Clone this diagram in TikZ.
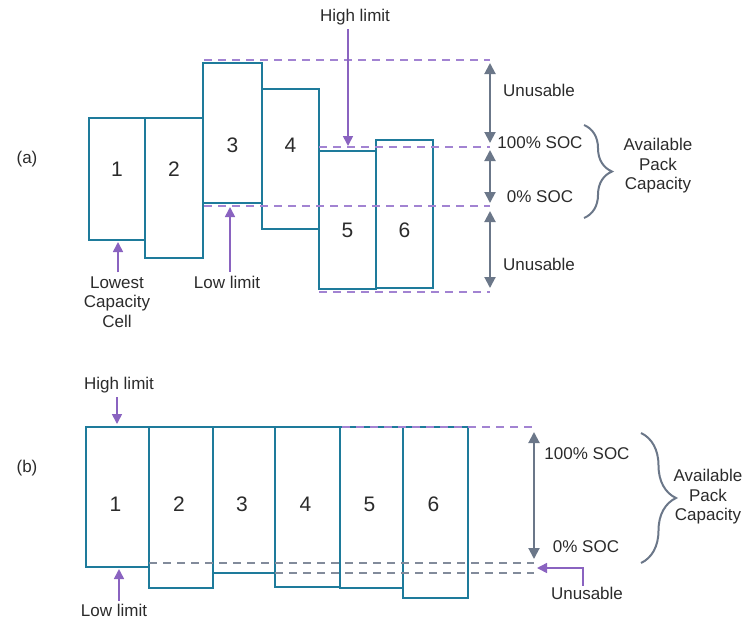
\documentclass[tikz,border=0pt]{standalone}
\usepackage{fontspec}
\setmainfont{Liberation Sans}
\usetikzlibrary{arrows.meta,decorations.pathreplacing}
\definecolor{celltl}{HTML}{1E7B9B}
\definecolor{purp}{HTML}{A283D2}
\definecolor{purpdk}{HTML}{8A63C0}
\definecolor{grayar}{HTML}{6B7789}
\definecolor{graydsh}{HTML}{828B9B}
\definecolor{txtc}{HTML}{2B2B2B}
\begin{document}
\begin{tikzpicture}[x=1pt,y=-1pt,
  cell/.style={draw=celltl,line width=2pt},
  num/.style={font=\fontsize{21}{21}\selectfont,text=txtc},
  lbl/.style={font=\fontsize{17}{19.5}\selectfont,text=txtc,align=center,inner sep=1pt},
  lim/.style={draw=purp,line width=1.6pt,dash pattern=on 8pt off 6pt},
  soc/.style={draw=graydsh,line width=1.6pt,dash pattern=on 8pt off 6pt},
  parrow/.style={draw=purpdk,line width=1.6pt,-{Triangle[length=10pt,width=10pt]}},
  garrow/.style={draw=grayar,line width=2pt,{Triangle[length=11pt,width=11pt]}-{Triangle[length=11pt,width=11pt]}},
  brc/.style={draw=grayar,line width=2pt,decorate,decoration={brace,amplitude=#1}}]
\useasboundingbox (0,0) rectangle (746,621);
% (a) cells out of balance
\node[lbl] (pa) at (27,159) {(a)};
\foreach \n/\l/\t/\r/\b/\y in {1/89/118/145/240/169,2/145/118/203/258/169,3/203/63/262/203/145,4/262/89/319/229/145,5/319/151/376/289/230,6/376/140/433/288/230}
  {\draw[cell] (\l,\t) rectangle (\r,\b); \node[num] (a\n) at ({(\l+\r)/2},\y) {\n};}
\coordinate (ta) at (490,60); \coordinate (ha) at (490,147); \coordinate (la) at (490,206); \coordinate (ba) at (490,292);
\draw[lim] (204,60) -- (ta); \draw[lim] (319,147) -- (ha); \draw[lim] (204,206) -- (la); \draw[lim] (319,292) -- (ba);
\draw[garrow,shorten <=3pt,shorten >=4pt] (ta) -- (ha); \draw[garrow,shorten <=3pt,shorten >=3pt] (ha) -- (la); \draw[garrow,shorten <=5pt,shorten >=4pt] (la) -- (ba);
\node[lbl] (ua) at (539,90) {Unusable}; \node[lbl] (s100a) at (540,143) {100\% SOC};
\node[lbl] (s0a) at (540,197) {0\% SOC}; \node[lbl] (ua2) at (539,264) {Unusable};
\draw[brc=28pt] (584,125) -- (584,218); \node[lbl] (ava) at (658,166) {Available\\Pack\\Capacity};
\node[lbl] (hla) at (355,17) {High limit}; \coordinate (hlt) at (348,146); \draw[parrow,shorten <=3pt] (hla.south -| hlt) -- (hlt);
\node[lbl] (lla) at (227,282) {Low limit}; \coordinate (llt) at (230,207); \draw[parrow,shorten <=3pt] (lla.north -| llt) -- (llt);
\node[lbl] (lca) at (117,302) {Lowest\\Capacity\\Cell}; \coordinate (lct) at (118,242); \draw[parrow,shorten <=3pt] (lca.north -| lct) -- (lct);
% (b) cells balanced at the top
\node[lbl] (pb) at (27,468) {(b)};
\foreach \n/\l/\r/\b in {1/86/149/567,2/149/213/588,3/213/275/573,4/275/340/587,5/340/403/588,6/403/468/598}
  {\draw[cell] (\l,427) rectangle (\r,\b); \node[num] (b\n) at ({(\l+\r)/2-2},504) {\n};}
\coordinate (tb) at (534,427); \coordinate (hb) at (534,563); \coordinate (lb) at (534,573);
\draw[lim] (342,427) -- (tb); \draw[soc] (149,563) -- (hb); \draw[soc] (275,573) -- (lb);
\draw[garrow,shorten <=5pt,shorten >=4pt] (tb) -- (hb);
\node[lbl] (s100b) at (587,454) {100\% SOC}; \node[lbl] (s0b) at (586,547) {0\% SOC};
\draw[brc=35pt] (641,433) -- (641,563); \node[lbl] (avb) at (708,497) {Available\\Pack\\Capacity};
\node[lbl] (unb) at (587,593) {Unusable}; \coordinate (ut) at (537,568); \draw[parrow] ([xshift=-4pt]unb.north) |- (ut);
\node[lbl] (hlb) at (119,385) {High limit}; \coordinate (hbt) at (117,424); \draw[parrow,shorten <=3pt] (hlb.south -| hbt) -- (hbt);
\node[lbl] (llb) at (114,610) {Low limit}; \coordinate (lbt) at (119,569); \draw[parrow,shorten <=2pt] (llb.north -| lbt) -- (lbt);
\end{tikzpicture}
\end{document}
